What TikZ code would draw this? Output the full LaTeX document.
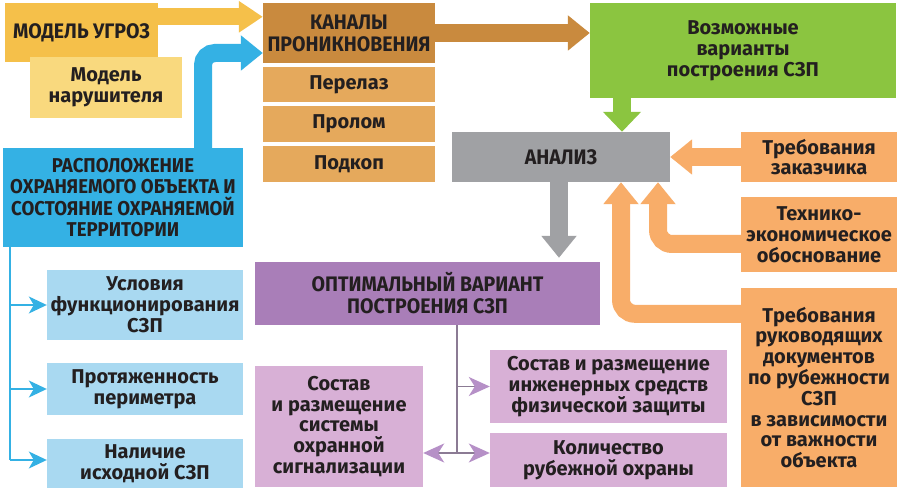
\documentclass[tikz,border=0pt]{standalone}
\usepackage{fontspec}
\setmainfont{Fira Sans}
\newfontfamily\capsfont{Fira Sans}[FakeStretch=0.93]
\usetikzlibrary{arrows.meta}
\definecolor{cYel}{HTML}{F5C04A}
\definecolor{cYelL}{HTML}{F9D97E}
\definecolor{cKan}{HTML}{C98A3E}
\definecolor{cKanL}{HTML}{E5A95C}
\definecolor{cGreen}{HTML}{8BC540}
\definecolor{cGray}{HTML}{A0A1A4}
\definecolor{cOr}{HTML}{F8AD69}
\definecolor{cBlue}{HTML}{34B1E4}
\definecolor{cBlueL}{HTML}{A9D9F1}
\definecolor{cPur}{HTML}{A97EB8}
\definecolor{cPurL}{HTML}{D8B0D6}
\definecolor{cPArr}{HTML}{B690C7}
\definecolor{cPLine}{HTML}{8B7B94}
\definecolor{txt}{HTML}{231F20}
\begin{document}
\begin{tikzpicture}[x=1pt,y=-1pt,
  box/.style={inner sep=0pt, align=center, text=txt, font=\bfseries\fontsize{20}{20.8}\selectfont},
  capbox/.style={box, font=\capsfont\bfseries\fontsize{21}{22}\selectfont},
  fat/.style={line width=18pt, -{Triangle[length=22pt,width=34pt]}},
  bline/.style={draw=cBlue, line width=1.2pt},
  barrow/.style={bline, -{Stealth[length=18pt,width=17pt,inset=5pt]}},
  pline/.style={draw=cPLine, line width=1.5pt},
  parrow/.style={pline, -{Stealth[length=21pt,width=19pt,inset=6pt,color=cPArr]}}
]
\fill[white] (0,0) rectangle (900,494);
\useasboundingbox (0,0) rectangle (900,494);

% coordinates for connector positions
\coordinate (bx) at (203,0);
\coordinate (by) at (0,53);
\coordinate (gx) at (622,0);
\coordinate (gs) at (559,0);
\coordinate (ox1) at (658,0);
\coordinate (ox2) at (621,0);
\coordinate (bt) at (10,460);
\coordinate (pj) at (457,453);

% boxes
\node[capbox, fill=cYel, minimum width=153pt, minimum height=59pt] (ugroz) at (81.5,32.5) {МОДЕЛЬ УГРОЗ};
\node[box, fill=cYelL, minimum width=152pt, minimum height=61pt] (narush) at (106,87.5) {Модель\\нарушителя};
\node[capbox, fill=cBlue, minimum width=240pt, minimum height=99pt, font=\capsfont\bfseries\fontsize{20}{21.5}\selectfont] (raspol) at (123,197.5) {РАСПОЛОЖЕНИЕ\\ОХРАНЯЕМОГО ОБЪЕКТА И\\СОСТОЯНИЕ ОХРАНЯЕМОЙ\\ТЕРРИТОРИИ};
\node[capbox, fill=cKan, minimum width=172pt, minimum height=60pt] (kanal) at (349,33) {КАНАЛЫ\\ПРОНИКНОВЕНИЯ};
\node[box, fill=cKanL, minimum width=172pt, minimum height=35pt] (perelaz) at (349,84.5) {Перелаз};
\node[box, fill=cKanL, minimum width=172pt, minimum height=36pt] (prolom) at (349,124) {Пролом};
\node[box, fill=cKanL, minimum width=172pt, minimum height=36pt] (podkop) at (349,164) {Подкоп};
\node[box, fill=cGreen, minimum width=306pt, minimum height=95pt] (vozm) at (743,50.5) {Возможные\\варианты\\построения СЗП};
\node[capbox, fill=cGray, minimum width=218pt, minimum height=50pt] (analiz) at (561,157) {АНАЛИЗ};
\node[capbox, fill=cPur, minimum width=345pt, minimum height=63pt] (optim) at (427.5,293.5) {ОПТИМАЛЬНЫЙ ВАРИАНТ\\ПОСТРОЕНИЯ СЗП};
\node[box, fill=cPurL, minimum width=168pt, minimum height=121pt] (sig) at (339,426.5) {Состав\\и размещение\\системы\\охранной\\сигнализации};
\node[box, fill=cPurL, minimum width=237pt, minimum height=73pt] (inzh) at (608.5,386.5) {Состав и размещение\\инженерных средств\\физической защиты};
\node[box, fill=cPurL, minimum width=237pt, minimum height=54pt] (kol) at (608.5,460) {Количество\\рубежной охраны};
\node[box, fill=cBlueL, minimum width=196pt, minimum height=70pt] (usl) at (145,305) {Условия\\функционирования\\СЗП};
\node[box, fill=cBlueL, minimum width=196pt, minimum height=52pt] (prot) at (145,389) {Протяженность\\периметра};
\node[box, fill=cBlueL, minimum width=196pt, minimum height=49pt] (nal) at (145,463.5) {Наличие\\исходной СЗП};
\node[box, fill=cOr, minimum width=156pt, minimum height=50pt] (treb) at (819,157) {Требования\\заказчика};
\node[box, fill=cOr, minimum width=156pt, minimum height=75pt] (tech) at (819,234.5) {Технико-\\экономическое\\обоснование};
\node[box, fill=cOr, minimum width=156pt, minimum height=199pt] (ruk) at (819,387.5) {Требования\\руководящих\\документов\\по рубежности\\СЗП\\в зависимости\\от важности\\объекта};

% fat arrows
\draw[fat, draw=cYel, line width=17pt, -{Triangle[length=24pt,width=30pt]}] ([yshift=-14pt,xshift=-1pt]ugroz.north east) -- ([yshift=-14pt]kanal.north west);
\draw[fat, draw=cBlue, rounded corners=12pt] ([yshift=-1pt]raspol.north -| bx) -- (bx |- by) -- (kanal.west |- by);
\draw[fat, draw=cKan] ([xshift=-1pt]kanal.east) -- (vozm.west |- kanal.east);
\draw[fat, draw=cGreen, -{Triangle[length=20pt,width=37pt]}] ([yshift=1pt]vozm.south -| gx) -- (analiz.north -| gx);
\draw[fat, draw=cGray] ([yshift=1pt]analiz.south -| gs) -- ([yshift=4pt]optim.north -| gs);
\draw[fat, draw=cOr] ([xshift=1pt]treb.west) -- (analiz.east |- treb.west);
\draw[fat, draw=cOr, rounded corners=14pt] ([yshift=-9.5pt,xshift=1pt]tech.west) -| (analiz.south -| ox1);
\draw[fat, draw=cOr, rounded corners=14pt] ([yshift=-26pt,xshift=1pt]ruk.north west) -| (analiz.south -| ox2);

% blue tree
\draw[bline] (raspol.south -| bt) -- (bt);
\draw[barrow] (bt |- usl.west) -- (usl.west);
\draw[barrow] (bt |- prot.west) -- (prot.west);
\draw[barrow] (bt) -- (nal.west |- bt);

% purple tree
\draw[pline] (optim.south -| pj) -- (pj);
\draw[parrow] (pj |- inzh.west) -- (inzh.west);
\draw[parrow] (pj) -- (kol.west |- pj);
\draw[parrow] (pj) -- (sig.east |- pj);
\end{tikzpicture}
\end{document}
